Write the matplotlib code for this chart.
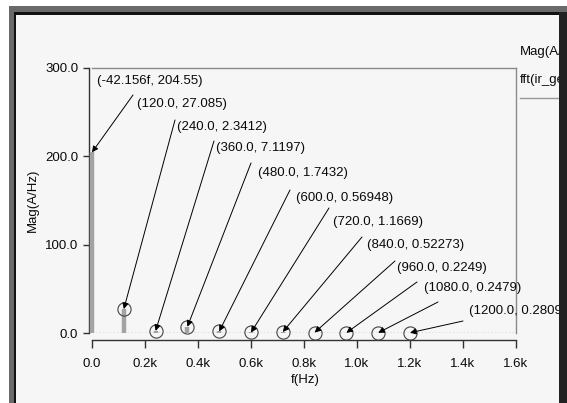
import matplotlib
matplotlib.use('Agg')
import matplotlib.pyplot as plt
from matplotlib.patches import Rectangle
from matplotlib.lines import Line2D

# ---------------- data ----------------
freqs = [0.0, 120.0, 240.0, 360.0, 480.0, 600.0, 720.0, 840.0, 960.0, 1080.0, 1200.0]
mags = [204.55, 27.085, 2.3412, 7.1197, 1.7432, 0.56948, 1.1669, 0.52273, 0.2249, 0.2479, 0.28095]
marker_labels = ["(-42.156f, 204.55)", "(120.0, 27.085)", "(240.0, 2.3412)", "(360.0, 7.1197)",
                 "(480.0, 1.7432)", "(600.0, 0.56948)", "(720.0, 1.1669)", "(840.0, 0.52273)",
                 "(960.0, 0.2249)", "(1080.0, 0.2479)", "(1200.0, 0.28095)"]
x_ticks = [0, 200, 400, 600, 800, 1000, 1200, 1400, 1600]
x_tick_labels = ["0.0", "0.2k", "0.4k", "0.6k", "0.8k", "1.0k", "1.2k", "1.4k", "1.6k"]
y_ticks = [0, 100, 200, 300]
y_tick_labels = ["0.0", "100.0", "200.0", "300.0"]
x_label = "f(Hz)"
y_label = "Mag(A/Hz)"
legend_lines = ["Mag(A/Hz)", "fft(ir_gen)"]

# ---------------- layout (image pixels, y from top) ----------------
W, H = 567, 403
label_pos = [(97, 81), (137, 104), (177, 127), (216, 148), (258, 173), (296, 198),
             (333, 222), (367, 245), (397, 268), (424, 288), (469, 311)]
line_start = [(133, 95), (175, 120), (214, 141), (251, 163), (290, 190), (329, 208),
              (362, 237), (395, 261), (417, 282), (438, 302), (463, 321)]

plt.rcParams['font.family'] = ['Liberation Sans', 'DejaVu Sans']
FS = 9.5
TXT = '#0a0a0a'

fig = plt.figure(figsize=(W / 100, H / 100), dpi=100, facecolor='#f6f6f6')
ax = fig.add_axes([92 / W, (H - 333) / H, (516 - 92) / W, (333 - 68) / H])
ax.set_facecolor('none')
ax.set_xlim(0, 1600)
ax.set_ylim(0, 300)

# spines
for s in ['top', 'right']:
    ax.spines[s].set_color('#8a8a8a')
    ax.spines[s].set_linewidth(1.0)
ax.spines['left'].set_position(('outward', 2))
ax.spines['left'].set_color('#333333')
ax.spines['left'].set_linewidth(1.0)
ax.spines['bottom'].set_position(('outward', 5))
ax.spines['bottom'].set_color('#333333')
ax.spines['bottom'].set_linewidth(1.0)

ax.set_xticks(x_ticks)
ax.set_xticklabels(x_tick_labels)
ax.set_yticks(y_ticks)
ax.set_yticklabels(y_tick_labels)
ax.tick_params(axis='x', direction='out', length=6, width=1, color='#333333', pad=7,
               labelsize=FS, labelcolor=TXT)
ax.tick_params(axis='y', direction='out', length=4, width=1, color='#333333', pad=4,
               labelsize=FS, labelcolor=TXT)

# zero trace (dotted)
ax.axhline(0, color='#555555', ls=(0, (1.2, 1.6)), lw=0.9, zorder=2)

# spectrum bars
ax.vlines(freqs, 0, mags, colors='#a3a3a3', linewidth=3.2, zorder=3, clip_on=False)

# marker circles
ax.plot(freqs[1:], mags[1:], 'o', mfc='none', mec='#444444', ms=9.5, mew=0.8,
        zorder=4, clip_on=False)

# annotations
for f, m, lab, (lx, ly), (sx, sy) in zip(freqs, mags, marker_labels, label_pos, line_start):
    fig.text(lx, H - ly, lab, transform=None, ha='left', va='center', fontsize=FS,
             color=TXT, zorder=5)
    ax.annotate('', xy=(f, m), xycoords='data', xytext=(sx, H - sy), textcoords='figure pixels',
                arrowprops=dict(arrowstyle='-|>', color='black', lw=0.7, mutation_scale=9,
                                shrinkA=0, shrinkB=0), annotation_clip=False, zorder=5)

# axis labels
fig.text(33, H - 200, y_label, transform=None, rotation=90, ha='center', va='center',
         fontsize=FS, color=TXT)
fig.text(305, H - 380, x_label, transform=None, ha='center', va='center',
         fontsize=FS, color=TXT)

# legend (clipped by window border)
fig.text(520, H - 52, legend_lines[0], transform=None, ha='left', va='center', fontsize=FS,
         color=TXT, zorder=5)
fig.text(520, H - 80, legend_lines[1], transform=None, ha='left', va='center', fontsize=FS,
         color=TXT, zorder=5)
fig.add_artist(Line2D([520, 560], [H - 98, H - 98], transform=None, color='#999999', lw=1.0,
                      zorder=5))

# window border
def rect(x0, y0, x1, y1, color):
    fig.patches.append(Rectangle((x0, H - y1), x1 - x0, y1 - y0, transform=None,
                                 facecolor=color, edgecolor='none', zorder=10))

rect(0, 0, W, 6, 'white')
rect(0, 0, 9, H, 'white')
rect(9, 6, W, 12, '#6a6a6a')
rect(9, 6, 14, H, '#6a6a6a')
rect(14, 12, W, 15, '#111111')
rect(14, 12, 16, H, '#111111')
rect(559, 12, W, H, '#222222')

fig.savefig('out.png', dpi=100, facecolor=fig.get_facecolor())
